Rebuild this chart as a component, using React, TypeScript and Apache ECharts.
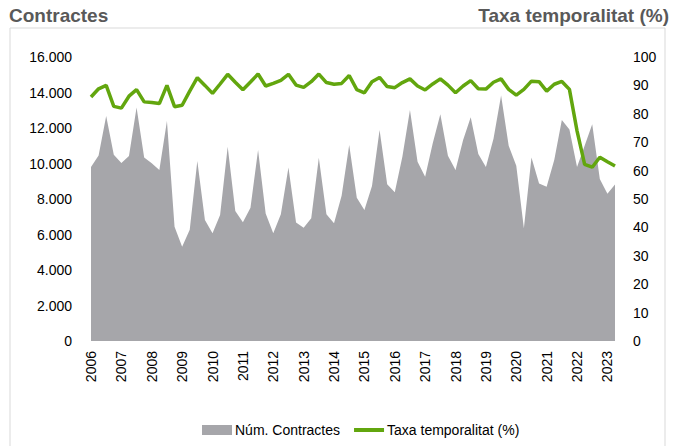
import React, { useEffect, useRef } from "react";
import * as echarts from "echarts";

const years = [2006, 2007, 2008, 2009, 2010, 2011, 2012, 2013, 2014, 2015, 2016, 2017, 2018, 2019, 2020, 2021, 2022, 2023];
const quarters = ["T1", "T2", "T3", "T4"];
const categories: string[] = [];
years.forEach((y) => quarters.forEach((q) => categories.push(`${y} ${q}`)));
const cats = categories.slice(0, 70);

const contractes = [
  9800, 10450, 12680, 10500, 10030, 10420, 13160, 10340, 10010, 9630,
  12400, 6440, 5310, 6270, 10140, 6820, 6070, 7100, 10950, 7320,
  6690, 7510, 10760, 7190, 6070, 7140, 9770, 6670, 6380, 6910,
  10330, 7140, 6630, 8180, 11040, 8070, 7380, 8730, 11890, 8830,
  8380, 10380, 13010, 10100, 9260, 11140, 12770, 10440, 9630, 11320,
  12600, 10540, 9800, 11390, 13830, 11000, 9870, 6350, 10340, 8870,
  8690, 10200, 12450, 11920, 9800, 11000, 12210, 9130, 8300, 8810,
];

const temporalitat = [
  85.9, 88.8, 90.0, 82.6, 82.0, 86.2, 88.5, 84.2, 84.0, 83.6,
  90.0, 82.5, 83.0, 88.0, 92.7, 90.0, 87.2, 90.5, 93.9, 91.1,
  88.5, 91.2, 94.0, 89.8, 90.7, 91.8, 93.9, 90.1, 89.3, 91.3,
  94.0, 91.0, 90.4, 90.7, 93.5, 88.5, 87.4, 91.3, 92.8, 89.6,
  89.2, 91.0, 92.3, 89.8, 88.4, 90.5, 92.3, 90.1, 87.4, 89.8,
  91.7, 88.8, 88.7, 91.1, 92.3, 88.6, 86.6, 88.6, 91.5, 91.3,
  88.0, 90.4, 91.4, 88.6, 74.0, 62.2, 61.2, 64.7, 63.1, 61.6,
];

const FONT = "'Liberation Sans', Arial, sans-serif";

export default function App() {
  const ref = useRef<HTMLDivElement>(null);
  useEffect(() => {
    if (!ref.current) return;
    const chart = echarts.init(ref.current, null, { renderer: "svg" });
    chart.setOption({
      animation: false,
      backgroundColor: "#ffffff",
      textStyle: { fontFamily: FONT },
      graphic: [
        {
          type: "rect",
          shape: { x: 10, y: 28, width: 655, height: 430 },
          style: { fill: "none", stroke: "#d9d9d9", lineWidth: 1 },
          silent: true,
        },
        {
          type: "text",
          left: 9,
          top: 6,
          style: { text: "Contractes", font: `bold 19px ${FONT}`, fill: "#595959" },
        },
        {
          type: "text",
          right: 13,
          top: 6,
          style: { text: "Taxa temporalitat (%)", font: `bold 19px ${FONT}`, fill: "#595959" },
        },
      ],
      grid: { left: 91, right: 67, top: 57, bottom: 105, containLabel: false },
      legend: {
        bottom: 4,
        left: 197,
        itemGap: 12,
        itemWidth: 30,
        itemHeight: 10,
        textStyle: { fontFamily: FONT, fontSize: 14, color: "#000", padding: [0, 0, 0, -2] },
        data: [
          { name: "Núm. Contractes", icon: "rect" },
          { name: "Taxa temporalitat (%)", itemStyle: { opacity: 0 }, lineStyle: { width: 4 } },
        ],
      },
      xAxis: {
        type: "category",
        data: cats,
        boundaryGap: false,
        axisLine: { show: false },
        axisTick: { show: false },
        axisLabel: {
          interval: 3,
          rotate: 90,
          margin: 10,
          fontSize: 14,
          color: "#000",
          fontFamily: FONT,
          formatter: (v: string) => v.split(" ")[0],
        },
      },
      yAxis: [
        {
          type: "value",
          min: 0,
          max: 16000,
          interval: 2000,
          splitLine: { show: false },
          axisLine: { show: false },
          axisTick: { show: false },
          axisLabel: {
            margin: 19,
            fontSize: 14,
            color: "#000",
            fontFamily: FONT,
            formatter: (v: number) => v.toString().replace(/\B(?=(\d{3})+(?!\d))/g, "."),
          },
        },
        {
          type: "value",
          min: 0,
          max: 100,
          interval: 10,
          splitLine: { show: false },
          axisLine: { show: false },
          axisTick: { show: false },
          axisLabel: { margin: 18, fontSize: 14, color: "#000", fontFamily: FONT },
        },
      ],
      series: [
        {
          name: "Núm. Contractes",
          type: "line",
          yAxisIndex: 0,
          data: contractes,
          symbol: "none",
          lineStyle: { width: 0, color: "#a6a6aa" },
          itemStyle: { color: "#a6a6aa" },
          areaStyle: { color: "#a6a6aa", opacity: 1 },
        },
        {
          name: "Taxa temporalitat (%)",
          type: "line",
          yAxisIndex: 1,
          data: temporalitat,
          symbol: "none",
          lineStyle: { width: 3.5, color: "#62a60e" },
          itemStyle: { color: "#62a60e" },
        },
      ],
    });
    return () => chart.dispose();
  }, []);
  return <div ref={ref} style={{ position: "absolute", left: 0, top: 0, width: 682, height: 446 }} />;
}
